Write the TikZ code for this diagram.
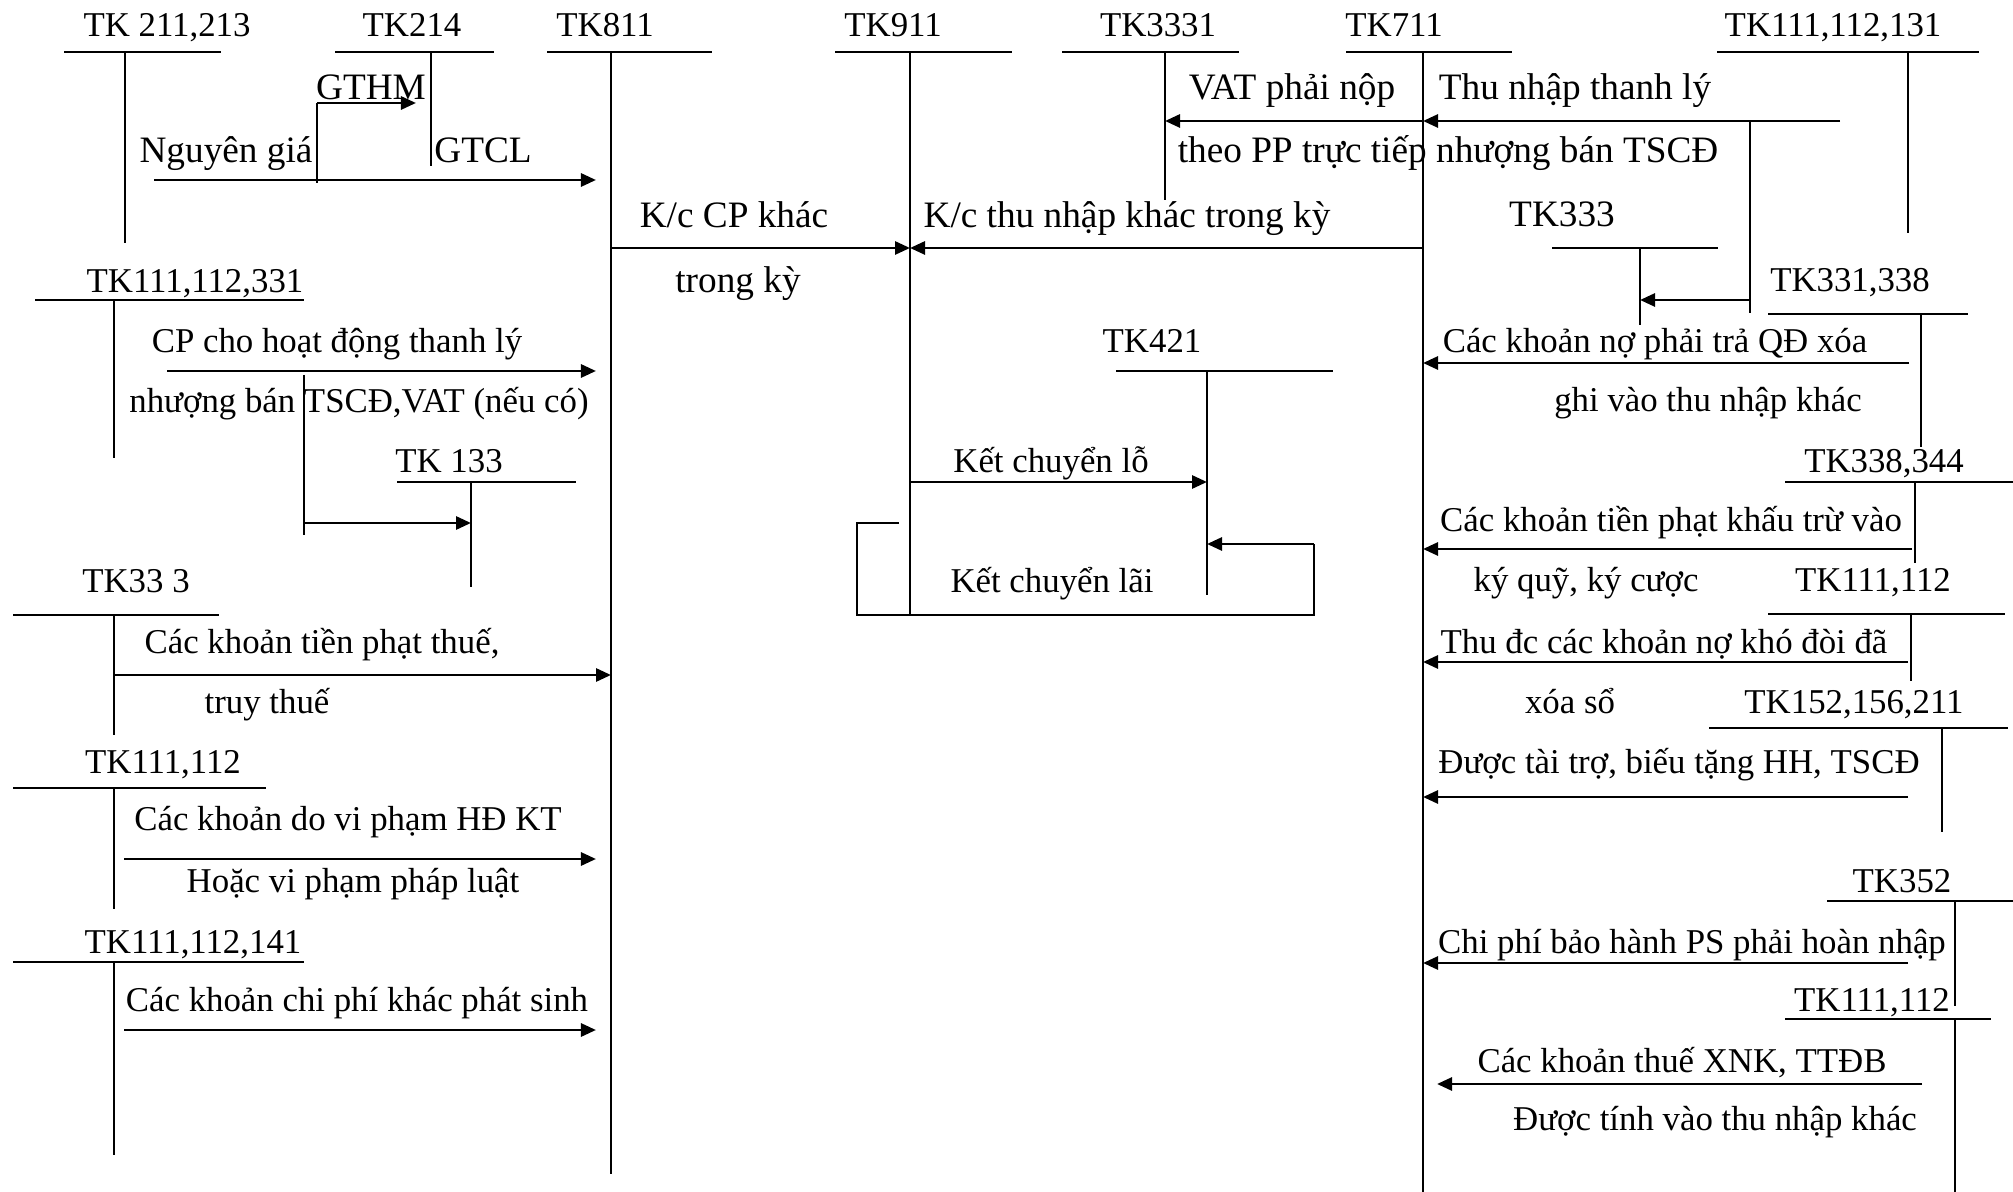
\documentclass[tikz,border=0pt]{standalone}
\usepackage{fontspec}
\setmainfont{Liberation Serif}
\usetikzlibrary{arrows.meta}
\tikzset{
    % Text styles
    lbl/.style={font=\fontsize{9.9}{12}\selectfont, inner sep=0pt, anchor=base},
    lblbig/.style={lbl, font=\fontsize{10.6}{13}\selectfont},
    % Line styles
    tline/.style={line width=0.45pt},
    myarrow/.style={-{Triangle[length=1.5mm,width=1.3mm]}, line width=0.8pt},
    short/.style={shorten >=1.5mm}
}
\begin{document}
\begin{tikzpicture}[x=0.01cm, y=-0.01cm]
\useasboundingbox (0,0) rectangle (2013,1192);

% Accounts, top row
\node[lbl] (tk211) at (167,37) {TK 211,213};
\draw[tline] (64,52) -- (221,52);
\draw[tline] (125,52) coordinate (t211) -- (125,243);

\node[lbl] (tk214) at (412,37) {TK214};
\draw[tline] (335,52) -- (494,52);
\draw[tline] (431,52) coordinate (t214) -- (431,166);

\node[lbl] (tk811) at (605,37) {TK811};
\draw[tline] (547,52) -- (712,52);
\draw[tline] (611,52) coordinate (t811) -- (611,1174);

\node[lbl] (tk911) at (893,37) {TK911};
\draw[tline] (835,52) -- (1012,52);
\draw[tline] (910,52) coordinate (t911) -- (910,615);

\node[lbl] (tk3331) at (1158,37) {TK3331};
\draw[tline] (1062,52) -- (1239,52);
\draw[tline] (1165,52) coordinate (t3331) -- (1165,200);

\node[lbl] (tk711) at (1394,37) {TK711};
\draw[tline] (1346,52) -- (1512,52);
\draw[tline] (1423,52) coordinate (t711) -- (1423,1192);

\node[lbl] (tk131) at (1833,37) {TK111,112,131};
\draw[tline] (1717,52) -- (1979,52);
\draw[tline] (1908,52) coordinate (t131) -- (1908,233);

% Accounts, left column
\node[lbl] (tk331) at (195,293) {TK111,112,331};
\draw[tline] (35,300) -- (304,300);
\draw[tline] (114,300) coordinate (t331) -- (114,458);

\node[lbl] (tk133) at (449,473) {TK 133};
\draw[tline] (397,482) -- (576,482);
\draw[tline] (471,482) coordinate (t133) -- (471,587);

\node[lbl] (tk333a) at (136,593) {TK33 3};
\draw[tline] (13,615) -- (219,615);
\draw[tline] (114,615) coordinate (t333a) -- (114,735);

\node[lbl] (tk112a) at (163,774) {TK111,112};
\draw[tline] (13,788) -- (266,788);
\draw[tline] (114,788) coordinate (t112a) -- (114,909);

\node[lbl] (tk141) at (193,953) {TK111,112,141};
\draw[tline] (13,962) -- (304,962);
\draw[tline] (114,962) coordinate (t141) -- (114,1155);

% Accounts, middle
\node[lbl] (tk421) at (1152,353) {TK421};
\draw[tline] (1116,371) -- (1333,371);
\draw[tline] (1207,371) coordinate (t421) -- (1207,595);

% Accounts, right column
\node[lblbig] (tk333) at (1562,227) {TK333};
\draw[tline] (1552,248) -- (1718,248);
\draw[tline] (1640,248) coordinate (t333) -- (1640,325);

\node[lbl] (tk338) at (1850,292) {TK331,338};
\draw[tline] (1768,314) -- (1968,314);
\draw[tline] (1921,314) coordinate (t338) -- (1921,447);

\node[lbl] (tk344) at (1884,473) {TK338,344};
\draw[tline] (1785,482) -- (2013,482);
\draw[tline] (1915,482) coordinate (t344) -- (1915,563);

\node[lbl] (tk112b) at (1873,592) {TK111,112};
\draw[tline] (1768,614) -- (2005,614);
\draw[tline] (1911,614) coordinate (t112b) -- (1911,681);

\node[lbl] (tk156) at (1854,713) {TK152,156,211};
\draw[tline] (1709,728) -- (2008,728);
\draw[tline] (1942,728) coordinate (t156) -- (1942,832);

\node[lbl] (tk352) at (1902,892) {TK352};
\draw[tline] (1827,901) -- (2013,901);
\draw[tline] (1955,901) coordinate (t352) -- (1955,1006);

\node[lbl] (tk112c) at (1872,1011) {TK111,112};
\draw[tline] (1785,1019) -- (1991,1019);
\draw[tline] (1955,1019) coordinate (t112c) -- (1955,1192);

% Arrows, left side
\coordinate (ng) at (154,180);
\draw[myarrow,short] (ng) -- (t811 |- ng);
\coordinate (gb) at (317,183);
\coordinate (gt) at (317,103);
\draw[tline] (gb) -- (gt);
\draw[myarrow,short] (gt) -- (t214 |- gt);
\coordinate (cp) at (167,371);
\draw[myarrow,short] (cp) -- (t811 |- cp);
\coordinate (vb) at (304,375);
\coordinate (ve) at (304,535);
\coordinate (vat) at (304,523);
\draw[tline] (vb) -- (ve);
\draw[myarrow] (vat) -- (t133 |- vat);
\coordinate (pt) at (114,675);
\draw[myarrow] (pt) -- (t811 |- pt);
\coordinate (vp) at (124,859);
\draw[myarrow,short] (vp) -- (t811 |- vp);
\coordinate (cpk) at (124,1030);
\draw[myarrow,short] (cpk) -- (t811 |- cpk);

% Arrows, middle
\coordinate (kc1) at (611,248);
\draw[myarrow] (kc1) -- (t911 |- kc1);
\coordinate (kc2) at (1423,248);
\draw[myarrow] (kc2) -- (t911 |- kc2);
\coordinate (lo) at (910,482);
\draw[myarrow] (lo) -- (t421 |- lo);
\draw[tline] (899,523) -- (857,523) -- (857,615) -- (1314,615) -- (1314,544) coordinate (lai);
\draw[myarrow] (lai) -- (t421 |- lai);

% Arrows, right side
\coordinate (vt) at (1423,121);
\draw[myarrow] (vt) -- (t3331 |- vt);
\coordinate (tn) at (1840,121);
\draw[myarrow] (tn) -- (t711 |- tn);
\coordinate (bt) at (1750,121);
\coordinate (bb) at (1750,313);
\coordinate (bv) at (1750,300);
\draw[tline] (bt) -- (bb);
\draw[myarrow] (bv) -- (t333 |- bv);
\coordinate (nq) at (1909,363);
\draw[myarrow] (nq) -- (t711 |- nq);
\coordinate (kq) at (1912,549);
\draw[myarrow] (kq) -- (t711 |- kq);
\coordinate (kd) at (1908,662);
\draw[myarrow] (kd) -- (t711 |- kd);
\coordinate (tt) at (1908,797);
\draw[myarrow] (tt) -- (t711 |- tt);
\coordinate (bh) at (1908,963);
\draw[myarrow] (bh) -- (t711 |- bh);
\coordinate (xnk) at (1922,1084);
\draw[myarrow,shorten >=1.4mm] (xnk) -- (t711 |- xnk);

% Labels
\node[lblbig] (gthm) at (371,100) {GTHM};
\node[lblbig] (ngia) at (226,163) {Nguyên giá};
\node[lblbig] (gtcl) at (483,163) {GTCL};
\node[lblbig] (vatl) at (1292,100) {VAT phải nộp};
\node[lblbig] (tnl) at (1575,100) {Thu nhập thanh lý};
\node[lblbig] (ppl) at (1448,163) {theo PP trực tiếp nhượng bán TSCĐ};
\node[lblbig] (kc1l) at (734,228) {K/c CP khác};
\node[lblbig] (kc1m) at (738,293) {trong kỳ};
\node[lblbig] (kc2l) at (1127,228) {K/c thu nhập khác trong kỳ};
\node[lbl] (cpl) at (337,353) {CP cho hoạt động thanh lý};
\node[lbl] (cpm) at (359,413) {nhượng bán TSCĐ,VAT (nếu có)};
\node[lbl] (nql) at (1655,353) {Các khoản nợ phải trả QĐ xóa};
\node[lbl] (nqm) at (1708,412) {ghi vào thu nhập khác};
\node[lbl] (lol) at (1051,473) {Kết chuyển lỗ};
\node[lbl] (lail) at (1052,593) {Kết chuyển lãi};
\node[lbl] (kql) at (1671,532) {Các khoản tiền phạt khấu trừ vào};
\node[lbl] (kqm) at (1586,592) {ký quỹ, ký cược};
\node[lbl] (ptl) at (322,653) {Các khoản tiền phạt thuế,};
\node[lbl] (ptm) at (267,713) {truy thuế};
\node[lbl] (kdl) at (1664,653) {Thu đc các khoản nợ khó đòi đã};
\node[lbl] (kdm) at (1570,713) {xóa sổ};
\node[lbl] (ttl) at (1679,774) {Được tài trợ, biếu tặng HH, TSCĐ};
\node[lbl] (vpl) at (348,830) {Các khoản do vi phạm HĐ KT};
\node[lbl] (vpm) at (353,892) {Hoặc vi phạm pháp luật};
\node[lbl] (bhl) at (1692,953) {Chi phí bảo hành PS phải hoàn nhập};
\node[lbl] (cpkl) at (357,1011) {Các khoản chi phí khác phát sinh};
\node[lbl] (xnkl) at (1682,1072) {Các khoản thuế XNK, TTĐB};
\node[lbl] (xnkm) at (1715,1130) {Được tính vào thu nhập khác};
\end{tikzpicture}
\end{document}
